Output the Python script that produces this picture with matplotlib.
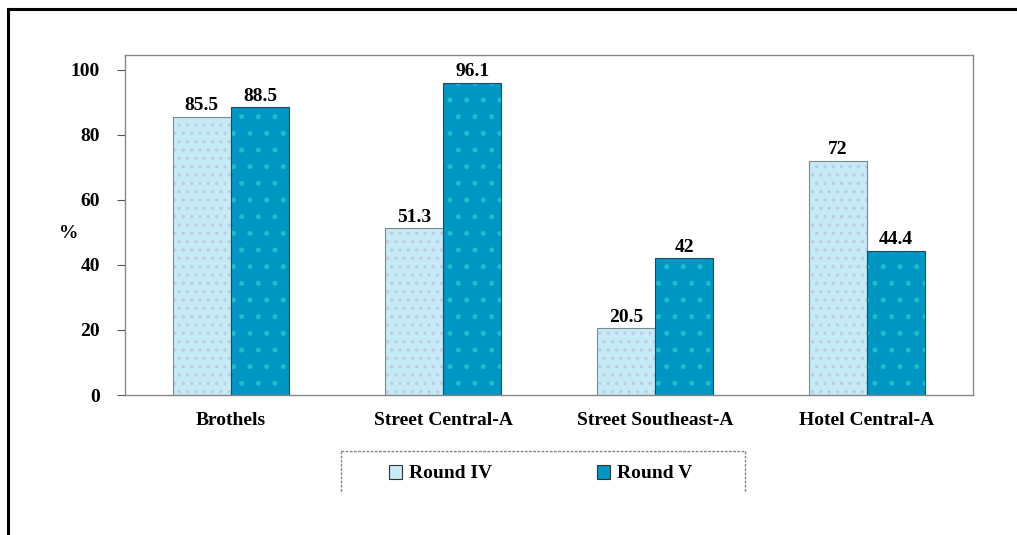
import matplotlib
matplotlib.use("Agg")
import matplotlib.pyplot as plt
from matplotlib.lines import Line2D
from matplotlib.patches import Rectangle
import numpy as np

categories = ["Brothels", "Street Central-A", "Street Southeast-A", "Hotel Central-A"]
round_iv = [85.5, 51.3, 20.5, 72]
round_v = [88.5, 96.1, 42, 44.4]
iv_labels = ["85.5", "51.3", "20.5", "72"]
v_labels = ["88.5", "96.1", "42", "44.4"]
series_names = ["Round IV", "Round V"]
yticks = [0, 20, 40, 60, 80, 100]

plt.rcParams["font.family"] = ["Liberation Serif", "DejaVu Serif"]
plt.rcParams["font.weight"] = "bold"
plt.rcParams["hatch.linewidth"] = 1.2

W, H = 1017, 535
fig = plt.figure(figsize=(W / 100, H / 100), dpi=100)
fig.patch.set_facecolor("white")

ax = fig.add_axes([125 / W, 1 - 395 / H, (973 - 125) / W, (395 - 55) / H])

light = "#c6eaf6"
dark = "#0096c4"
x = np.arange(len(categories))
bw = 0.275
fs = 14

b1 = ax.bar(x - bw / 2, round_iv, bw, color=light, edgecolor="#7a8a90",
            linewidth=0.8, zorder=2)
b2 = ax.bar(x + bw / 2, round_v, bw, color=dark, edgecolor="#1f4a5a",
            linewidth=0.8, zorder=2)
for p in b1:
    p.set_hatch("..")
    p._hatch_color = (0.75, 0.8, 0.9, 1)
for p in b2:
    p.set_hatch(".")
    p._hatch_color = (0.1, 0.75, 0.8, 1)

for bars, labels in [(b1, iv_labels), (b2, v_labels)]:
    for rect, lab in zip(bars, labels):
        ax.text(rect.get_x() + rect.get_width() / 2, rect.get_height() + 0.8, lab,
                ha="center", va="bottom", fontsize=fs, fontweight="bold")

ax.set_xlim(-0.5, len(categories) - 0.5)
ax.set_ylim(0, 104.6)
ax.set_yticks(yticks)
ax.set_yticklabels([str(t) for t in yticks], fontsize=fs, fontweight="bold")
ax.set_xticks(x)
ax.set_xticklabels(categories, fontsize=fs, fontweight="bold")
ax.tick_params(axis="y", direction="out", length=6, width=0.8, color="#555555", pad=12)
ax.tick_params(axis="x", length=0, pad=12)
for s in ["left", "top", "right", "bottom"]:
    ax.spines[s].set_color("#888888")
    ax.spines[s].set_linewidth(1.0)
    ax.spines[s].set_linestyle((0, (2, 1)))

ax.text((69 - 125) / 848, (395 - 233) / 340, "%", transform=ax.transAxes,
        fontsize=fs, fontweight="bold", ha="center", va="center")

# legend panel (open at the bottom)
def fx(px):
    return px / W

def fy(py):
    return 1 - py / H

lc = "#888888"
ls = (0, (2, 1))
fig.add_artist(Line2D([fx(341), fx(745)], [fy(451), fy(451)], color=lc, lw=1.0, ls=ls))
fig.add_artist(Line2D([fx(341), fx(341)], [fy(451), fy(493)], color=lc, lw=1.0, ls=ls))
fig.add_artist(Line2D([fx(745), fx(745)], [fy(451), fy(493)], color=lc, lw=1.0, ls=ls))

for px, col, name in [(389, light, series_names[0]), (597, dark, series_names[1])]:
    fig.add_artist(Rectangle((fx(px), fy(479)), 13 / W, 14 / H, facecolor=col,
                             edgecolor="#333333", lw=0.8, transform=fig.transFigure))
    fig.text(fx(px + 20), fy(473), name, fontsize=fs, fontweight="bold",
             ha="left", va="center")

# outer frame: left and top edges
fig.add_artist(Line2D([fx(8), fx(8)], [fy(9), fy(535)], color="black", lw=2.2))
fig.add_artist(Line2D([fx(8), fx(1017)], [fy(9), fy(9)], color="black", lw=2.2))

fig.savefig("out.png", dpi=100, facecolor="white")
